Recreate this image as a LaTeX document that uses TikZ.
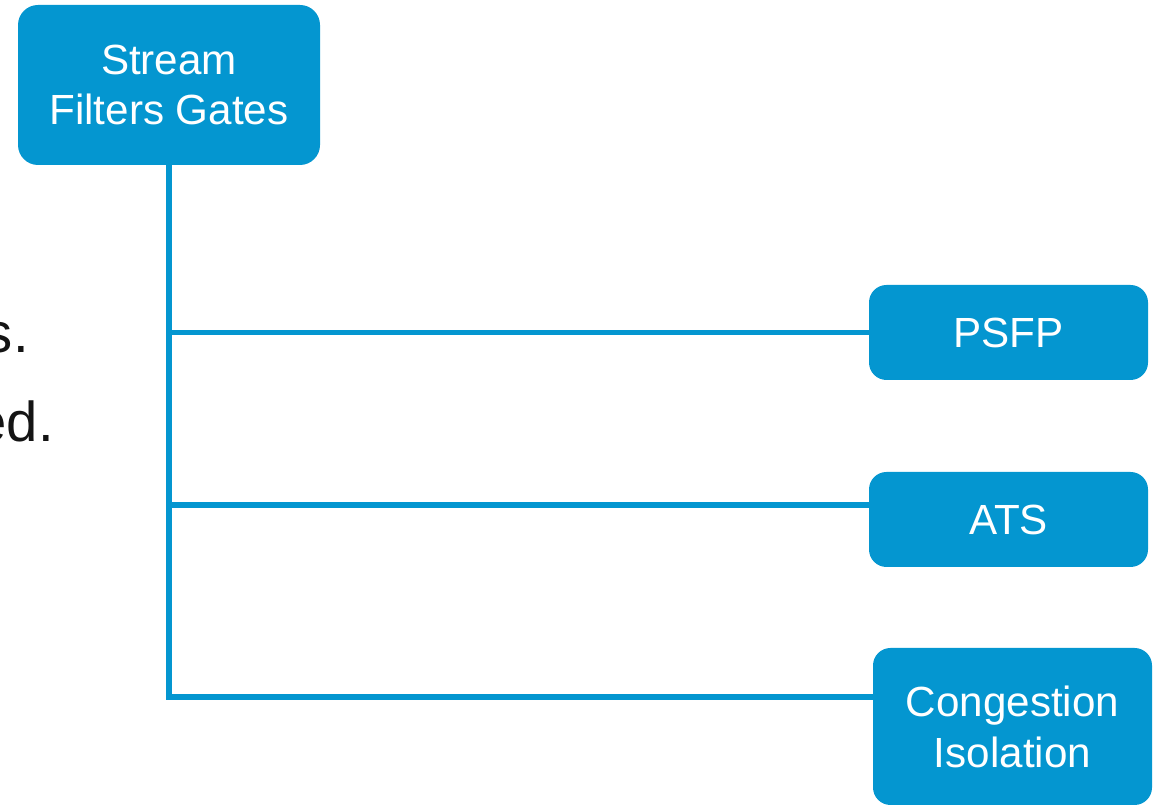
\documentclass[tikz,border=0pt]{standalone}
\usepackage{fontspec}
\setmainfont{Liberation Sans}
\usepackage{xcolor}
\definecolor{tsnblue}{RGB}{4, 150, 208}
\definecolor{tsntext}{RGB}{20, 20, 20}
\begin{document}
\begin{tikzpicture}[
    featbox/.style={rectangle, rounded corners=0.35cm, fill=tsnblue, draw=none, text=white, align=center, font=\fontsize{24}{29}\selectfont},
    branch/.style={draw=tsnblue, line width=3.4pt}
  ]
                \useasboundingbox (0,0) rectangle (23.16,16.12);

                % Leftover slide text
                \node[anchor=base east, inner sep=0pt, text=tsntext, font=\fontsize{32}{38}\selectfont] (txtone) at (0.58,9.07) {s.};
                \node[anchor=base east, inner sep=0pt, text=tsntext, font=\fontsize{32}{38}\selectfont] (txttwo) at (1.08,7.28) {ed.};

                % Feature boxes
                \node[featbox, rounded corners=0.4cm, minimum width=6.04cm, minimum height=3.2cm] (sfg) at (3.38,14.42) {Stream\\Filters Gates};
                \node[featbox, minimum width=5.58cm, minimum height=1.9cm] (psfp) at (20.17,9.47) {PSFP};
                \node[featbox, minimum width=5.58cm, minimum height=1.9cm] (ats) at (20.17,5.73) {ATS};
                \node[featbox, minimum width=5.58cm, minimum height=3.14cm] (ci) at (20.25,1.59) {Congestion\\Isolation};

                % Tree
                \coordinate (bend) at (3.36,2.18);
                \coordinate (atsjoin) at (3.36,6.02);
                \draw[branch] (sfg.south) -- (sfg.south |- bend) -- (bend -| ci.west);
                \draw[branch] (sfg.south |- psfp) -- (psfp.west);
                \draw[branch] (atsjoin) -- (atsjoin -| ats.west);
            \end{tikzpicture}
\end{document}
